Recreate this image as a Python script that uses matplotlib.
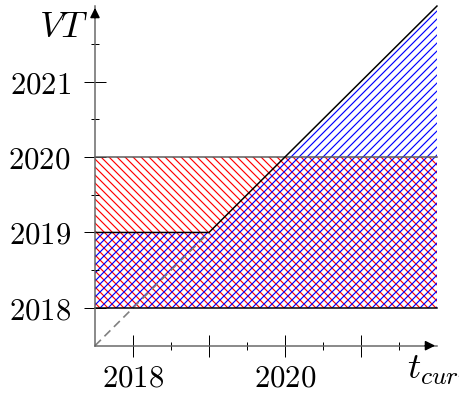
import numpy as np
import matplotlib
matplotlib.use('Agg')
import matplotlib.pyplot as plt
from matplotlib.ticker import FixedLocator, FixedFormatter

plt.rcParams['mathtext.fontset'] = 'cm'
plt.rcParams['hatch.linewidth'] = 0.7

# valid-time bound as a function of the current time
t_curr = [2017.5, 2019, 2022]
vt_upper = [2019, 2019, 2022]
vt_lower = 2018
red_band = [2018, 2020]
dashed_t = [2017.5, 2019]

x_major = [2018, 2019, 2020, 2021]
x_labels = ['$2018$', '', '$2020$', '']
y_major = [2018, 2019, 2020, 2021]
y_labels = ['$2018$', '$2019$', '$2020$', '$2021$']
minor = [2018.5, 2019.5, 2020.5, 2021.5]

dpi = 120
fig = plt.figure(figsize=(459 / dpi, 397 / dpi), dpi=dpi)
ax = fig.add_axes([0, 0, 1, 1])
ax.set_xlim(2016.25, 2022.29)
ax.set_ylim(2016.82, 2022.08)
ax.patch.set_visible(False)

# hatched regions
ax.fill_between([t_curr[0], t_curr[-1]], red_band[0], red_band[1],
                facecolor='none', edgecolor='red', hatch='\\' * 5, linewidth=0, zorder=1)
ax.fill_between(t_curr, vt_lower, vt_upper,
                facecolor='none', edgecolor='blue', hatch='/' * 5, linewidth=0, zorder=1)

# boundary lines
ax.plot([t_curr[0], t_curr[-1]], [red_band[0]] * 2, color='black', lw=0.9, zorder=3)
ax.plot([t_curr[0], t_curr[-1]], [red_band[1]] * 2, color='0.35', lw=0.9, zorder=3)
ax.plot(t_curr, vt_upper, color='black', lw=0.9, zorder=3)
ax.plot(dashed_t, dashed_t, color='0.5', lw=1.0, ls=(0, (5, 3)), zorder=2)

# axes through the origin
for side in ['top', 'right']:
    ax.spines[side].set_visible(False)
ax.spines['left'].set_position(('data', 2017.5))
ax.spines['bottom'].set_position(('data', 2017.5))
ax.spines['left'].set_bounds(2017.5, 2022)
ax.spines['bottom'].set_bounds(2017.5, 2022)
for side in ['left', 'bottom']:
    ax.spines[side].set_color('0.4')
    ax.spines[side].set_linewidth(0.9)
    ax.spines[side].set_zorder(4)

ax.xaxis.set_major_locator(FixedLocator(x_major))
ax.xaxis.set_major_formatter(FixedFormatter(x_labels))
ax.yaxis.set_major_locator(FixedLocator(y_major))
ax.yaxis.set_major_formatter(FixedFormatter(y_labels))
ax.xaxis.set_minor_locator(FixedLocator(minor))
ax.yaxis.set_minor_locator(FixedLocator(minor))
ax.tick_params(which='major', direction='inout', length=13, width=0.6,
               color='black', labelsize=18.5)
ax.tick_params(which='minor', direction='inout', length=4.5, width=0.6, color='black')
ax.tick_params(axis='x', which='major', pad=4)
ax.tick_params(axis='y', which='major', pad=8)

# arrow heads
ax.annotate('', xy=(2022.02, 2017.5), xytext=(2021.8, 2017.5),
            arrowprops=dict(arrowstyle='-|>', color='black', lw=0.9, mutation_scale=12),
            zorder=5)
ax.annotate('', xy=(2017.5, 2022.02), xytext=(2017.5, 2021.8),
            arrowprops=dict(arrowstyle='-|>', color='black', lw=0.9, mutation_scale=12),
            zorder=5)

ax.text(2017.41, 2021.73, '$VT$', fontsize=22, ha='right', va='center')
ax.text(2021.6, 2017.06, '$t_{curr}$', fontsize=22, ha='left', va='baseline')

fig.savefig('out.png', dpi=dpi)
